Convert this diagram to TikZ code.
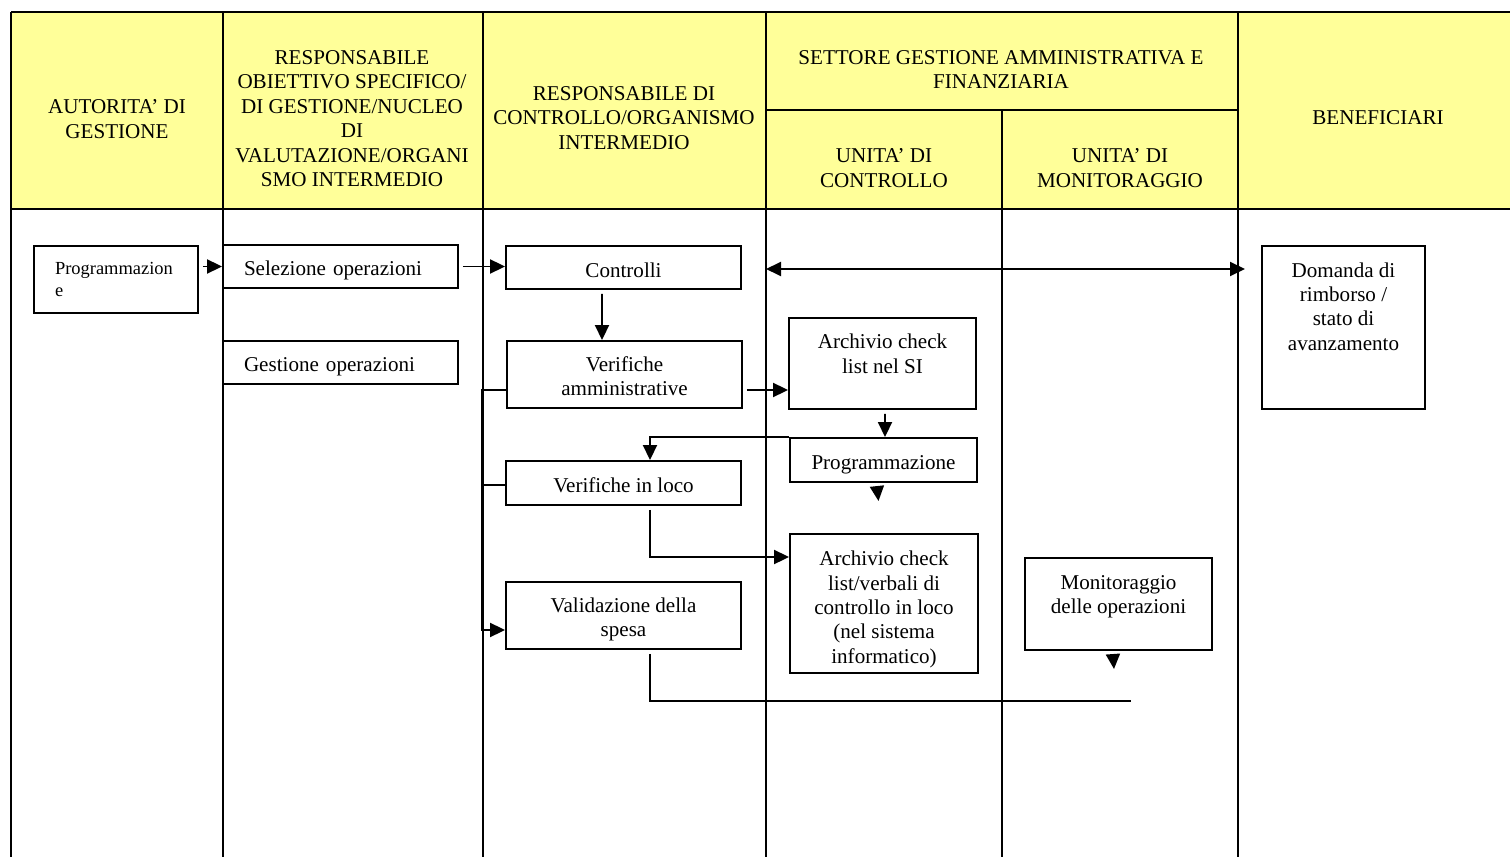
\documentclass[tikz,border=0pt]{standalone}
\usepackage{fontspec}
\setmainfont{Liberation Serif}
\usetikzlibrary{arrows.meta}
\definecolor{headyellow}{RGB}{255,255,153}
\newcommand{\lift}[1]{\rule[-#1]{0pt}{#1}}
\newcommand{\drop}[1]{\rule{0pt}{#1}}

\begin{document}
\begin{tikzpicture}[x=0.02cm, y=-0.02cm,
    grid/.style={line width=0.6pt},
    head/.style={align=center, font=\fontsize{12}{13.9}\selectfont, inner sep=0pt},
    box/.style={draw, line width=1.1pt, align=center, font=\fontsize{12}{13.9}\selectfont, inner sep=0pt},
    arr/.style={line width=1.1pt, -{Triangle[length=0.3cm, width=0.28cm]}},
    dbl/.style={line width=1.1pt, {Triangle[length=0.3cm, width=0.28cm]}-{Triangle[length=0.3cm, width=0.28cm]}},
    link/.style={line width=1.1pt}]

\useasboundingbox (0,0) rectangle (1510,857);

% table
\fill[headyellow] (11,12) rectangle (1510,209);
\draw[grid] (11,12) -- (1510,12);
\draw[grid] (11,209) -- (1510,209);
\draw[grid] (766,110) -- (1238,110);
\foreach \x in {11,223,483,766,1238}
    \draw[grid] (\x,12) -- (\x,857);
\draw[grid] (1002,110) -- (1002,857);

\node[head] (hag) at (117,119) {AUTORITA’ DI\\GESTIONE};
\node[head] (hro) at (352,118.5) {RESPONSABILE\\OBIETTIVO SPECIFICO/\\DI GESTIONE/NUCLEO\\DI\\VALUTAZIONE/ORGANI\\SMO INTERMEDIO};
\node[head] (hrc) at (624,118) {RESPONSABILE DI\\CONTROLLO/ORGANISMO\\INTERMEDIO};
\node[head] (hset) at (1001,69.5) {SETTORE GESTIONE AMMINISTRATIVA E\\FINANZIARIA};
\node[head] (huc) at (884,168) {UNITA’ DI\\CONTROLLO};
\node[head] (hum) at (1120,168) {UNITA’ DI\\MONITORAGGIO};
\node[head] (hben) at (1378,118) {BENEFICIARI};

% boxes
\node[box, align=left, text width=2.44cm, inner xsep=0.42cm, minimum height=1.34cm, font=\fontsize{10.5}{12.5}\selectfont] (prog) at (116,279.5) {Programmazion\\e};
\node[box, align=left, text width=3.86cm, inner xsep=0.42cm, minimum height=0.86cm] (sel) at (340.5,266.5) {\drop{12.8pt}Selezione operazioni};
\node[box, align=left, text width=3.86cm, inner xsep=0.42cm, minimum height=0.86cm] (gest) at (340.5,362.5) {\drop{12.8pt}Gestione operazioni};
\node[box, minimum width=4.7cm, minimum height=0.86cm] (contr) at (623.5,267.5) {\drop{11.6pt}Controlli};
\node[box, minimum width=4.7cm, minimum height=1.34cm] (vamm) at (624.5,374.5) {\drop{10.5pt}Verifiche\\amministrative};
\node[box, minimum width=4.7cm, minimum height=0.88cm] (vloco) at (623.5,483) {\drop{10.5pt}Verifiche in loco};
\node[box, minimum width=4.7cm, minimum height=1.34cm] (valid) at (623.5,615.5) {\drop{13pt}Validazione della\\spesa};
\node[box, minimum width=3.74cm, minimum height=1.82cm] (archsi) at (882.5,363.5) {Archivio check\\list nel SI\lift{11pt}};
\node[box, minimum width=3.74cm, minimum height=0.88cm] (progr) at (883.5,460) {\drop{13.9pt}Programmazione};
\node[box, minimum width=3.76cm, minimum height=2.78cm] (archvl) at (884,603.5) {\drop{15pt}Archivio check\\list/verbali di\\controllo in loco\\(nel sistema\\informatico)};
\node[box, minimum width=3.74cm, minimum height=1.84cm] (monit) at (1118.5,604) {Monitoraggio\\delle operazioni\lift{11pt}};
\node[box, minimum width=3.26cm, minimum height=3.26cm] (dom) at (1343.5,327.5) {Domanda di\\rimborso /\\stato di\\avanzamento\lift{24pt}};

% connectors
\coordinate (p1) at ([xshift=0.08cm]prog.east);
\draw[arr] (p1 |- sel.west) -- (sel.west);
\draw[arr] ([xshift=0.08cm]sel.east) -- (sel.east -| contr.west);
\coordinate (lane3) at (766,269);
\coordinate (lane5) at (1245,269);
\draw[dbl] (lane3) -- (lane5);
\draw[arr] ([shift={(-21.5,4)}]contr.south) -- ([xshift=-0.45cm]vamm.north);
\coordinate (va) at ([shift={(4,15.5)}]vamm.east);
\draw[arr] (va) -- (va -| archsi.west);
\draw[arr] ([shift={(2.5,4)}]archsi.south) -- ([xshift=0.03cm]progr.north);
\draw[arr] (progr.north west) -| ([xshift=0.53cm]vloco.north);
\draw[arr] ([yshift=-0.31cm]vamm.west) -- ++(-24,0) |- ([yshift=-0.29cm]valid.west);
\draw[link] ([yshift=-0.04cm]vloco.west) -- ++(-23,0);
\draw[arr] ([shift={(26.5,4)}]vloco.south) |- ([yshift=0.93cm]archvl.west);
\coordinate (mon) at (1131,701);
\draw[link] ([shift={(26.5,4)}]valid.south) |- (mon);

% loose tips
\coordinate (t1) at (877,487);
\draw[arr] (t1) -- ++(1.5,14);
\coordinate (t2) at (1113,655);
\draw[arr] (t2) -- ++(1,14);
\end{tikzpicture}
\end{document}
